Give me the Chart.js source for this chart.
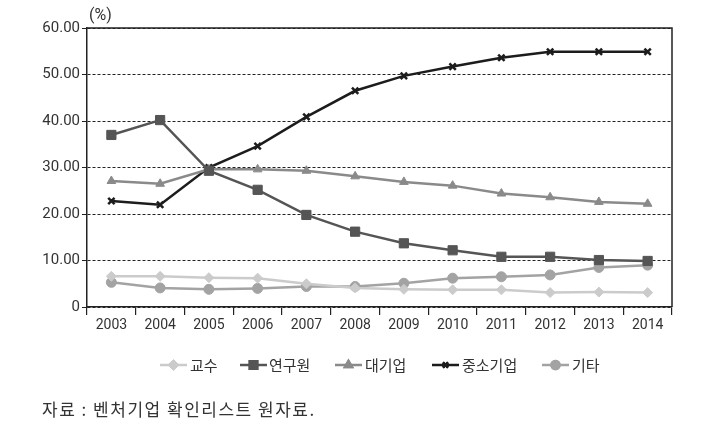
<!DOCTYPE html>
<html>
<head>
<meta charset="utf-8">
<script src="https://cdn.jsdelivr.net/npm/chart.js@4"></script>
<style>
  body { margin: 0; background: #fff; }
  #wrap { width: 709px; height: 443px; position: relative; }
</style>
</head>
<body>
<div id="wrap"><canvas id="myLineChart" width="709" height="443"></canvas></div>
<script>
// data
var years = ['2003','2004','2005','2006','2007','2008','2009','2010','2011','2012','2013','2014'];
var professor = [6.6, 6.6, 6.3, 6.2, 5.0, 4.1, 3.8, 3.7, 3.7, 3.1, 3.2, 3.1];
var researcher = [37.0, 40.2, 29.3, 25.2, 19.8, 16.2, 13.7, 12.2, 10.8, 10.8, 10.1, 9.9];
var largeFirm = [27.1, 26.5, 29.6, 29.6, 29.3, 28.1, 26.9, 26.1, 24.4, 23.6, 22.6, 22.2];
var smeFirm = [22.8, 22.0, 30.0, 34.6, 40.9, 46.5, 49.7, 51.7, 53.6, 54.9, 54.9, 54.9];
var others = [5.3, 4.1, 3.8, 4.0, 4.4, 4.4, 5.1, 6.2, 6.5, 6.9, 8.5, 9.0];
var yTicks = [0, 10, 20, 30, 40, 50, 60];

var narrow = "'Liberation Sans Narrow', 'Roboto', sans-serif";
var kr = "'Noto Sans CJK KR', sans-serif";

function series(label, data, color, style, radius, bw) {
  return {
    label: label,
    data: data,
    borderColor: color,
    backgroundColor: color,
    pointBackgroundColor: color,
    pointBorderColor: color,
    pointStyle: style,
    pointRadius: radius,
    pointBorderWidth: bw,
    borderWidth: 2.5,
    tension: 0,
    fill: false
  };
}

// box, (%) label, legend and source note
var extras = {
  id: 'extras',
  afterDraw: function (chart) {
    var ctx = chart.ctx, a = chart.chartArea;
    ctx.save();
    ctx.strokeStyle = '#222';
    ctx.lineWidth = 1.5;
    ctx.beginPath();
    ctx.moveTo(a.left, a.top);
    ctx.lineTo(a.right, a.top);
    ctx.lineTo(a.right, a.bottom);
    ctx.stroke();

    ctx.fillStyle = '#333';
    ctx.font = '16px ' + narrow;
    ctx.textBaseline = 'middle';
    ctx.fillText('(%)', 89, 16);

    // legend
    var items = [[160, 190], [240, 269], [335, 365], [432, 462], [542, 572]];
    var y = 365;
    chart.data.datasets.forEach(function (ds, i) {
      var x0 = items[i][0];
      ctx.strokeStyle = ds.borderColor;
      ctx.lineWidth = 2.5;
      ctx.beginPath();
      ctx.moveTo(x0, y);
      ctx.lineTo(x0 + 27, y);
      ctx.stroke();
      Chart.helpers.drawPoint(ctx, {
        pointStyle: ds.pointStyle,
        radius: ds.pointRadius * 0.8,
        borderWidth: ds.pointBorderWidth,
        rotation: 0
      }, x0 + 13.5, y);
      ctx.fillStyle = ds.borderColor;
      ctx.fill();
      ctx.stroke();
      ctx.fillStyle = '#333';
      ctx.font = '15px ' + kr;
      ctx.fillText(ds.label, items[i][1], y);
    });

    ctx.fillStyle = '#333';
    ctx.font = '17px ' + kr;
    ctx.letterSpacing = '1.5px';
    ctx.fillText('자료 : 벤처기업 확인리스트 원자료.', 42, 410);
    ctx.restore();
  }
};

var ctxLine = document.getElementById('myLineChart').getContext('2d');
var myChart = new Chart(ctxLine, {
  type: 'line',
  data: {
    labels: years,
    datasets: [
      series('교수', professor, '#cbcbcb', 'rectRot', 5, 1),
      series('연구원', researcher, '#555555', 'rect', 6.5, 1),
      series('대기업', largeFirm, '#8a8a8a', 'triangle', 5, 1),
      series('중소기업', smeFirm, '#1c1c1c', 'crossRot', 4.5, 2.5),
      series('기타', others, '#a3a3a3', 'circle', 5, 1)
    ]
  },
  options: {
    responsive: false,
    animation: false,
    layout: { padding: { left: 0, right: 37, top: 28, bottom: 106 } },
    plugins: {
      legend: { display: false },
      tooltip: { enabled: false }
    },
    scales: {
      x: {
        offset: true,
        grid: { offset: true, drawOnChartArea: false, tickLength: 8, color: '#222', lineWidth: 1.2 },
        border: { color: '#222', width: 1.5 },
        ticks: { color: '#333', font: { family: narrow, size: 14 }, padding: 2, maxRotation: 0 },
        afterFit: function (s) { s.height = 30; }
      },
      y: {
        min: 0,
        max: 60,
        afterBuildTicks: function (s) { s.ticks = yTicks.map(function (v) { return { value: v }; }); },
        grid: { color: '#222', lineWidth: 1, tickLength: 5, tickColor: '#222', tickBorderDash: [] },
        border: { color: '#222', width: 1.5, dash: [3, 2] },
        ticks: {
          color: '#333',
          font: { family: narrow, size: 15 },
          padding: 2,
          callback: function (v) { return v === 0 ? '0' : v.toFixed(2); }
        },
        afterFit: function (s) { s.width = 87; }
      }
    }
  },
  plugins: [extras]
});
</script>
</body>
</html>
